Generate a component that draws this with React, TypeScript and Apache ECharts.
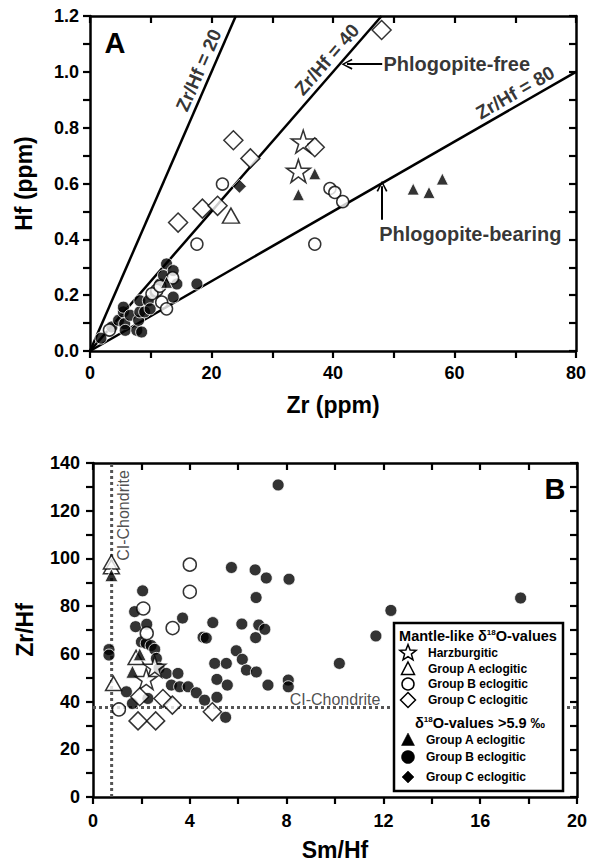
import React, { useEffect, useRef } from "react";
import * as echarts from "echarts";

const FONT = '"Liberation Sans", Arial, Helvetica, sans-serif';

// ---------------- Panel A data (Zr ppm, Hf ppm) ----------------
const ratioLines = [20, 40, 80];
const ratioLabels = ["Zr/Hf = 20", "Zr/Hf = 40", "Zr/Hf = 80"];
const aHarz = [[35.1, 0.75], [34.3, 0.645]];
const aGrpAOpen = [[23.2, 0.485]];
const aGrpBOpen = [
  [21.8, 0.598], [39.5, 0.582], [40.3, 0.568], [41.6, 0.535], [37.0, 0.383], [17.6, 0.383],
  [11.8, 0.175], [12.6, 0.151], [11.0, 0.217], [10.2, 0.205], [11.5, 0.232], [13.6, 0.262], [3.2, 0.075],
];
const aGrpCOpen = [[48.0, 1.15], [23.6, 0.755], [26.4, 0.69], [18.5, 0.51], [21.0, 0.52], [14.5, 0.46], [37.0, 0.73]];
const aGrpAFilled = [[37.0, 0.635], [34.3, 0.56], [53.2, 0.58], [55.8, 0.568], [58.0, 0.616], [12.6, 0.246]];
const aGrpBFilled = [
  [1.8, 0.046], [3.6, 0.086], [4.7, 0.11], [5.5, 0.14], [5.5, 0.157], [5.7, 0.098], [5.8, 0.074],
  [6.6, 0.128], [7.7, 0.074], [8.0, 0.11], [8.2, 0.14], [8.2, 0.18], [8.5, 0.068], [9.0, 0.14],
  [9.6, 0.18], [9.9, 0.151], [10.7, 0.21], [11.5, 0.24], [12.1, 0.27], [12.6, 0.312], [13.7, 0.288],
  [13.7, 0.193], [14.3, 0.24], [17.6, 0.24],
];
const aGrpCFilled = [[24.6, 0.59]];

// ---------------- Panel B data (Sm/Hf, Zr/Hf) ----------------
const chondriteSmHf = 0.77;
const chondriteZrHf = 37.5;
const bHarz = [[2.55, 54.6], [2.2, 49.5]];
const bGrpAOpen = [[0.85, 47.6], [1.78, 58.5], [0.76, 96.5], [0.76, 98.5]];
const bGrpBOpen = [[1.07, 36.7], [2.08, 79.0], [2.22, 68.6], [3.29, 70.8], [4.0, 97.4], [4.0, 86.0]];
const bGrpCOpen = [[1.93, 42.0], [2.89, 41.3], [3.28, 38.5], [4.93, 35.7], [1.86, 31.9], [2.59, 31.9]];
const bGrpAFilled = [[0.76, 93.0], [1.93, 59.8], [1.63, 52.5]];
const bGrpBFilled = [
  [0.66, 61.8], [0.66, 59.5], [2.05, 86.4], [1.72, 77.7], [1.76, 71.4], [2.22, 72.4], [3.7, 75.0],
  [4.55, 67.0], [4.68, 66.6], [4.95, 73.1], [5.72, 96.2], [6.7, 95.2], [7.16, 91.8], [8.1, 91.3],
  [6.74, 83.6], [6.15, 72.5], [6.85, 72.1], [7.1, 70.3], [6.72, 66.8], [7.65, 130.8], [12.31, 78.2],
  [11.69, 67.5], [17.67, 83.4], [10.18, 56.0], [8.07, 49.0], [8.07, 46.2], [2.0, 65.0], [2.2, 64.4],
  [2.4, 63.5], [2.55, 61.9], [2.62, 58.1], [2.73, 54.0], [3.03, 51.8], [3.51, 51.8], [3.24, 46.9],
  [3.58, 46.2], [3.93, 46.2], [4.27, 43.7], [4.61, 40.6], [5.12, 41.8], [5.48, 33.4], [5.03, 56.0],
  [5.51, 56.0], [5.12, 49.3], [5.55, 46.9], [5.92, 61.3], [6.17, 57.7], [6.34, 53.2], [6.75, 52.4],
  [7.23, 46.9], [1.38, 44.1], [1.63, 39.2], [2.27, 41.3],
];

const STAR = "path://M50,0 L61.2,34.5 L97.6,34.5 L68.2,55.9 L79.4,90.5 L50,69.1 L20.6,90.5 L31.8,55.9 L2.4,34.5 L38.8,34.5 Z";
const CHEVRON = "path://M0,10 L5,0 L10,10 L8.6,10.7 L5,2.8 L1.4,10.7 Z";

const bold = (size: number) => ({ fontFamily: FONT, fontWeight: "bold" as const, fontSize: size, color: "#000" });

function openStyle() {
  return { color: "#fff", borderColor: "#000", borderWidth: 1.5 };
}
function filledStyle() {
  return { color: "#000", borderColor: "#fff", borderWidth: 1 };
}

function scatter(data: number[][], idx: number, symbol: string, size: any, open: boolean, z = 3) {
  return {
    type: "scatter",
    xAxisIndex: idx * 2,
    yAxisIndex: idx * 2,
    data,
    symbol,
    symbolSize: size,
    itemStyle: open ? openStyle() : filledStyle(),
    z,
    silent: true,
  };
}

function textSeries(idx: number, pt: number[], text: string, opts: any) {
  return {
    type: "scatter",
    xAxisIndex: idx * 2,
    yAxisIndex: idx * 2,
    data: [pt],
    symbolSize: 0,
    clip: false,
    silent: true,
    z: 5,
    label: { show: true, formatter: text, ...opts },
  };
}

function makeAxes(gridIndex: number, xr: any, yr: any) {
  const line = { show: true, onZero: false, lineStyle: { color: "#000", width: 2.5 } };
  const tick = (inside: boolean) => ({ show: true, inside, length: 7, lineStyle: { color: "#000", width: 2.2 } });
  const xAxis = [
    {
      gridIndex, type: "value", position: "bottom", min: xr.min, max: xr.max, interval: xr.interval,
      axisLine: line, axisTick: tick(false), splitLine: { show: false },
      axisLabel: { ...bold(18), margin: xr.margin, formatter: xr.fmt },
      name: xr.name, nameLocation: "middle", nameGap: xr.nameGap, nameTextStyle: bold(23),
    },
    {
      gridIndex, type: "value", position: "top", min: xr.min, max: xr.max, interval: xr.interval,
      axisLine: line, axisTick: tick(true), splitLine: { show: false }, axisLabel: { show: false },
    },
  ];
  const yAxis = [
    {
      gridIndex, type: "value", position: "left", min: yr.min, max: yr.max, interval: yr.interval,
      axisLine: line, axisTick: tick(false), splitLine: { show: false },
      axisLabel: { ...bold(18), margin: yr.margin, formatter: yr.fmt },
      name: yr.name, nameLocation: "middle", nameGap: yr.nameGap, nameTextStyle: bold(23),
    },
    {
      gridIndex, type: "value", position: "right", min: yr.min, max: yr.max, interval: yr.interval,
      axisLine: line, axisTick: tick(true), splitLine: { show: false }, axisLabel: { show: false },
    },
  ];
  return { xAxis, yAxis };
}

function starPoints(cx: number, cy: number, R: number, r: number) {
  const pts: number[][] = [];
  for (let i = 0; i < 10; i++) {
    const a = -Math.PI / 2 + (i * Math.PI) / 5;
    const rad = i % 2 === 0 ? R : r;
    pts.push([cx + rad * Math.cos(a), cy + rad * Math.sin(a)]);
  }
  return pts;
}

function legendSymbol(kind: string, open: boolean, cx: number, cy: number) {
  const style = open
    ? { fill: "#fff", stroke: "#000", lineWidth: 1.5 }
    : { fill: "#000", stroke: "#000", lineWidth: 0.5 };
  if (kind === "star") return { type: "polygon", shape: { points: starPoints(cx, cy, 8.5, 3.6) }, style, z: 101 };
  if (kind === "tri") return { type: "polygon", shape: { points: [[cx, cy - 7], [cx + 6.5, cy + 5.5], [cx - 6.5, cy + 5.5]] }, style, z: 101 };
  if (kind === "circ") return { type: "circle", shape: { cx, cy, r: open ? 6 : 6.5 }, style, z: 101 };
  const d = open ? 7.5 : 6;
  return { type: "polygon", shape: { points: [[cx, cy - d], [cx + d, cy], [cx, cy + d], [cx - d, cy]] }, style, z: 101 };
}

const legendItems = [
  { kind: "star", open: true, y: 653, label: "Harzburgitic" },
  { kind: "tri", open: true, y: 669, label: "Group A eclogitic" },
  { kind: "circ", open: true, y: 684, label: "Group B eclogitic" },
  { kind: "diam", open: true, y: 700, label: "Group C eclogitic" },
  { kind: "tri", open: false, y: 740, label: "Group A eclogitic" },
  { kind: "circ", open: false, y: 757, label: "Group B eclogitic" },
  { kind: "diam", open: false, y: 777, label: "Group C eclogitic" },
];

// label anchor positions (data coords) beside each ratio line, and their rotations
const ratioLabelPos = [[17.9, 1.006], [39.0, 1.044], [70.0, 0.926]];
const ratioLabelRot = [66.5, 49, 30];

function buildOption() {
  const A = makeAxes(0,
    { min: 0, max: 80, interval: 10, margin: 13, name: "Zr (ppm)", nameGap: 42, fmt: (v: number) => (v % 20 === 0 ? String(v) : "") },
    { min: 0, max: 1.2, interval: 0.1, margin: 11, name: "Hf (ppm)", nameGap: 55, fmt: (v: number) => (Math.round(v * 10) % 2 === 0 ? v.toFixed(1) : "") },
  );
  const B = makeAxes(1,
    { min: 0, max: 20, interval: 2, margin: 15, name: "Sm/Hf", nameGap: 41, fmt: (v: number) => (v % 4 === 0 ? String(v) : "") },
    { min: 0, max: 140, interval: 10, margin: 13, name: "Zr/Hf", nameGap: 57, fmt: (v: number) => (v % 20 === 0 ? String(v) : "") },
  );

  const lineSeriesA = ratioLines.map((r) => {
    const zrEnd = Math.min(80, 1.2 * r);
    return {
      type: "line", xAxisIndex: 0, yAxisIndex: 0, data: [[0, 0], [zrEnd, zrEnd / r]],
      symbol: "none", lineStyle: { color: "#000", width: 2.5 }, z: 1, silent: true,
    };
  });

  const lineLbls = ratioLabels.map((t, i) =>
    textSeries(0, ratioLabelPos[i], t, { position: "inside", rotate: ratioLabelRot[i], ...bold(19), align: "center", verticalAlign: "middle" }),
  );

  const arrowSeries = {
    type: "line", xAxisIndex: 0, yAxisIndex: 0, data: [], silent: true,
    markLine: {
      silent: true, animation: false,
      symbol: ["none", CHEVRON], symbolSize: [11, 11],
      lineStyle: { color: "#000", width: 2, type: "solid" },
      label: { show: false },
      data: [
        [{ coord: [48.1, 1.0275] }, { coord: [42.3, 1.0275] }],
        [{ coord: [48.07, 0.47] }, { coord: [48.07, 0.59] }],
      ],
    },
  };

  const dotted = { color: "#555", width: 3, type: [3, 3] };
  const bLines = [
    { type: "line", xAxisIndex: 2, yAxisIndex: 2, data: [[chondriteSmHf, 0], [chondriteSmHf, 140]], symbol: "none", lineStyle: dotted, z: 1, silent: true },
    { type: "line", xAxisIndex: 2, yAxisIndex: 2, data: [[0, chondriteZrHf], [20, chondriteZrHf]], symbol: "none", lineStyle: dotted, z: 1, silent: true },
  ];

  const series: any[] = [
    ...lineSeriesA,
    arrowSeries,
    ...lineLbls,
    textSeries(0, [48.3, 1.0275], "Phlogopite-free", { position: "right", distance: 0, ...bold(20) }),
    textSeries(0, [47.6, 0.42], "Phlogopite-bearing", { position: "right", distance: 0, ...bold(20) }),
    scatter(aGrpBFilled, 0, "circle", 12, false),
    scatter(aGrpBOpen, 0, "circle", 12, true),
    scatter(aGrpAFilled, 0, "triangle", 12, false),
    scatter(aGrpAOpen, 0, "triangle", [17, 15], true),
    scatter(aHarz, 0, STAR, [24, 23], true),
    scatter(aGrpCOpen, 0, "diamond", 19, true),
    scatter(aGrpCFilled, 0, "diamond", 14, false),

    ...bLines,
    textSeries(1, [1.24, 118], "CI-Chondrite", { position: "inside", rotate: 90, fontFamily: FONT, fontSize: 16, color: "#222", align: "center", verticalAlign: "middle" }),
    textSeries(1, [10.0, 40.9], "CI-Chondrite", { position: "inside", fontFamily: FONT, fontSize: 16, color: "#222", align: "center", verticalAlign: "middle" }),
    scatter(bGrpBFilled, 1, "circle", 12, false),
    scatter(bGrpBOpen, 1, "circle", 13, true),
    scatter(bGrpAOpen, 1, "triangle", [16, 14], true),
    scatter(bGrpAFilled, 1, "triangle", 13, false),
    scatter(bHarz, 1, STAR, [22, 21], true),
    scatter(bGrpCOpen, 1, "diamond", 18, true),
  ];

  const legendBox = { left: 394, top: 623, width: 169, height: 168 };
  const graphic: any[] = [
    { type: "text", x: 115, y: 43, z: 100, style: { text: "A", fill: "#000", fontFamily: FONT, fontWeight: "bold", fontSize: 29, align: "center", verticalAlign: "middle" } },
    { type: "text", x: 555, y: 489, z: 100, style: { text: "B", fill: "#000", fontFamily: FONT, fontWeight: "bold", fontSize: 29, align: "center", verticalAlign: "middle" } },
    {
      type: "rect", z: 100,
      shape: { x: legendBox.left, y: legendBox.top, width: legendBox.width, height: legendBox.height },
      style: { fill: "#fff", stroke: "#000", lineWidth: 2.5 },
    },
    {
      type: "text", x: 478, y: 636, z: 101,
      style: {
        text: "{a|Mantle-like δ}{s|18}{a|O-values}", align: "center", verticalAlign: "middle", fill: "#000",
        rich: {
          a: { fontFamily: FONT, fontWeight: "bold", fontSize: 14.5, lineHeight: 16, fill: "#000" },
          s: { fontFamily: FONT, fontWeight: "bold", fontSize: 8, lineHeight: 9, fill: "#000", verticalAlign: "top" },
        },
      },
    },
    {
      type: "text", x: 480, y: 723, z: 101,
      style: {
        text: "{a|δ}{s|18}{a|O-values >5.9 ‰}", align: "center", verticalAlign: "middle", fill: "#000",
        rich: {
          a: { fontFamily: FONT, fontWeight: "bold", fontSize: 14.5, lineHeight: 16, fill: "#000" },
          s: { fontFamily: FONT, fontWeight: "bold", fontSize: 8, lineHeight: 9, fill: "#000", verticalAlign: "top" },
        },
      },
    },
  ];
  legendItems.forEach((it) => {
    graphic.push(legendSymbol(it.kind, it.open, 408, it.y));
    graphic.push({
      type: "text", x: it.open ? 428 : 426, y: it.y, z: 101,
      style: { text: it.label, fill: "#000", fontFamily: FONT, fontWeight: "bold", fontSize: 12, align: "left", verticalAlign: "middle" },
    });
  });

  return {
    animation: false,
    backgroundColor: "#fff",
    grid: [
      { left: 90, top: 16, width: 486, height: 335, containLabel: false },
      { left: 93, top: 463, width: 484, height: 334, containLabel: false },
    ],
    xAxis: [...A.xAxis, ...B.xAxis],
    yAxis: [...A.yAxis, ...B.yAxis],
    series,
    graphic,
  };
}

export default function App() {
  const ref = useRef<HTMLDivElement>(null);
  useEffect(() => {
    if (!ref.current) return;
    const chart = echarts.init(ref.current, undefined, { renderer: "svg" });
    chart.setOption(buildOption() as any);
    return () => chart.dispose();
  }, []);
  return (
    <div
      ref={ref}
      style={{ position: "absolute", left: 0, top: 0, width: 601, height: 866, background: "#fff" }}
    />
  );
}
